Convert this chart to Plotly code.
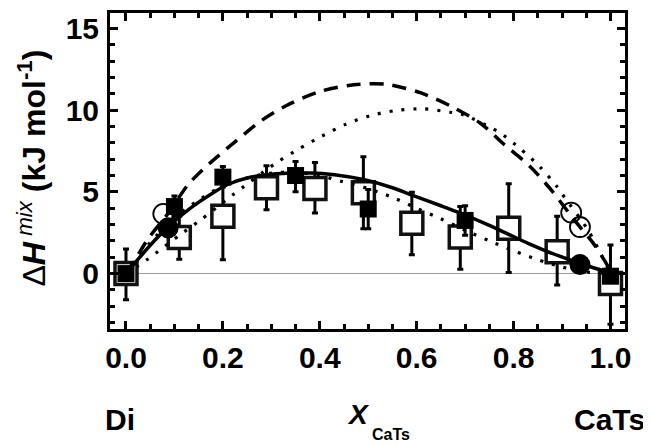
import plotly.graph_objects as go

# open squares (with error bars)
open_sq_x = [0.0, 0.11, 0.2, 0.29, 0.39, 0.49, 0.59, 0.69, 0.79, 0.89, 1.0]
open_sq_y = [0.0, 2.2, 3.5, 5.25, 5.2, 4.95, 3.08, 2.24, 2.78, 1.33, -0.6]
open_sq_up = [1.5, 1.3, 2.6, 1.35, 1.6, 2.2, 1.9, 1.86, 2.72, 2.17, 2.35]
open_sq_dn = [1.6, 1.33, 2.65, 1.35, 1.5, 2.2, 1.93, 1.98, 2.72, 2.03, 2.5]

# filled squares
fill_sq_x = [0.0, 0.1, 0.2, 0.35, 0.5, 0.7, 1.0]
fill_sq_y = [0.0, 4.1, 5.9, 6.0, 3.95, 3.25, -0.16]
fill_sq_up = [0.0, 0.65, 0.65, 0.85, 1.2, 0.9, 0.3]
fill_sq_dn = [0.0, 0.6, 0.6, 1.0, 1.2, 0.9, 0.3]

# circles
fill_circ_x = [0.087, 0.937]
fill_circ_y = [2.8, 0.55]
open_circ_x = [0.077, 0.919, 0.937]
open_circ_y = [3.65, 3.73, 2.85]

# curves
solid_x = [0, 0.03, 0.06, 0.09, 0.135, 0.18, 0.21, 0.25, 0.31, 0.38, 0.43, 0.49,
           0.55, 0.59, 0.65, 0.69, 0.75, 0.79, 0.83, 0.87, 0.92, 0.96, 1.0]
solid_y = [0, 1.05, 2.05, 2.95, 4.05, 4.95, 5.45, 5.85, 6.1, 6.15, 6.05, 5.75,
           5.25, 4.8, 4.15, 3.7, 2.95, 2.4, 1.85, 1.35, 0.8, 0.4, 0.05]

dash_x = [0, 0.028, 0.045, 0.09, 0.128, 0.173, 0.225, 0.28, 0.338, 0.4, 0.47,
          0.535, 0.609, 0.672, 0.731, 0.782, 0.834, 0.878, 0.924, 0.968, 1.0]
dash_y = [0, 1.3, 2.1, 3.8, 5.44, 6.75, 8.06, 9.37, 10.38, 11.14, 11.55,
          11.59, 11.05, 10.22, 9.21, 7.86, 6.55, 5.1, 3.33, 1.71, 0.2]

dot_hi_x = [0, 0.044, 0.066, 0.109, 0.154, 0.219, 0.307, 0.355, 0.404, 0.452, 0.504,
            0.558, 0.614, 0.669, 0.696, 0.769, 0.813, 0.855, 0.889, 0.906, 0.955, 1.0]
dot_hi_y = [0, 0.86, 1.35, 2.32, 3.28, 4.78, 6.71, 7.6, 8.4, 9.11, 9.66,
            9.98, 10.08, 9.87, 9.72, 8.66, 7.66, 6.51, 5.34, 4.63, 2.6, 0]

dot_lo_x = [0, 0.05, 0.1, 0.15, 0.2, 0.25, 0.3, 0.35, 0.4, 0.445, 0.5, 0.55,
            0.6, 0.65, 0.7, 0.75, 0.8, 0.85, 0.9, 0.95, 1.0]
dot_lo_y = [0, 1.9, 3.4, 4.5, 5.35, 5.85, 6.15, 6.2, 6.0, 5.64, 5.2, 4.66,
            4.0, 3.35, 2.65, 2.0, 1.4, 0.85, 0.4, 0.1, 0]

FONT = "Liberation Sans, Arial, sans-serif"
BLACK = "#000000"

fig = go.Figure()

fig.add_trace(go.Scatter(
    x=open_sq_x, y=open_sq_y, mode="markers",
    marker=dict(symbol="square", size=22, color="white", line=dict(color="#111111", width=3.5)),
    error_y=dict(type="data", symmetric=False, array=open_sq_up, arrayminus=open_sq_dn,
                 color=BLACK, thickness=3, width=3),
))

curve_specs = [
    (dot_hi_x, dot_hi_y, "3px,9px", 3.2),
    (dot_lo_x, dot_lo_y, "3px,9px", 3.2),
    (dash_x, dash_y, "14px,9px", 3.5),
    (solid_x, solid_y, "solid", 3.5),
]
for cx, cy, dash, w in curve_specs:
    fig.add_trace(go.Scatter(
        x=cx, y=cy, mode="lines", line=dict(color=BLACK, width=w, dash=dash, shape="spline", smoothing=0.8),
    ))

fig.add_trace(go.Scatter(
    x=fill_sq_x, y=fill_sq_y, mode="markers",
    marker=dict(symbol="square", size=17, color=BLACK),
    error_y=dict(type="data", symmetric=False, array=fill_sq_up, arrayminus=fill_sq_dn,
                 color=BLACK, thickness=3, width=3),
))
fig.add_trace(go.Scatter(
    x=fill_circ_x, y=fill_circ_y, mode="markers",
    marker=dict(symbol="circle", size=21, color=BLACK),
))
fig.add_trace(go.Scatter(
    x=open_circ_x, y=open_circ_y, mode="markers",
    marker=dict(symbol="circle-open", size=20, color=BLACK, line=dict(width=1.8)),
))

axis_common = dict(
    showline=True, linecolor=BLACK, linewidth=3, mirror="allticks",
    ticks="inside", ticklen=8, tickwidth=2.5, tickcolor=BLACK,
    showgrid=False,
    tickfont=dict(family=FONT, size=30, color=BLACK, weight="bold"),
)

fig.update_xaxes(
    range=[-0.033, 1.030], tickvals=[0, 0.2, 0.4, 0.6, 0.8, 1.0], tickformat=".1f",
    minor=dict(dtick=0.05, tick0=0, ticks="inside", ticklen=5, tickwidth=2.5, tickcolor=BLACK),
    zeroline=False, ticklabelstandoff=0, **axis_common,
)
fig.update_yaxes(
    range=[-3.39, 15.94], tickvals=[0, 5, 10, 15],
    minor=dict(dtick=1, tick0=0, ticks="inside", ticklen=5, tickwidth=2.5, tickcolor=BLACK),
    zeroline=True, zerolinecolor="#9a9a9a", zerolinewidth=1, ticklabelstandoff=2, **axis_common,
)

fig.add_annotation(
    text="Δ<b><i>H</i></b><sup><i> mix</i></sup> <b>(kJ mol<sup>-1</sup>)</b>",
    xref="paper", yref="paper", x=-0.152, y=0.51, textangle=-90, showarrow=False,
    xanchor="center", yanchor="middle",
    font=dict(family=FONT, size=32, color=BLACK),
)
fig.add_annotation(text="<b>Di</b>", xref="paper", yref="paper", x=0.02, y=-0.285,
                   xanchor="center", yanchor="middle", showarrow=False,
                   font=dict(family=FONT, size=30, color=BLACK))
fig.add_annotation(text="<b>CaTs</b>", xref="paper", yref="paper", x=0.97, y=-0.285,
                   xanchor="center", yanchor="middle", showarrow=False,
                   font=dict(family=FONT, size=30, color=BLACK))
fig.add_annotation(text="<b><i>X</i></b>", xref="paper", yref="paper", x=0.482, y=-0.27,
                   xanchor="center", yanchor="middle", showarrow=False,
                   font=dict(family=FONT, size=28, color=BLACK))
fig.add_annotation(text="<b>CaTs</b>", xref="paper", yref="paper", x=0.505, y=-0.335,
                   xanchor="left", yanchor="middle", showarrow=False,
                   font=dict(family=FONT, size=16, color=BLACK))

fig.update_layout(
    width=651, height=444,
    margin=dict(l=102, r=34, t=2, b=123),
    paper_bgcolor="white", plot_bgcolor="white",
    showlegend=False,
    font=dict(family=FONT, color=BLACK),
)

fig.write_html("out.html")
